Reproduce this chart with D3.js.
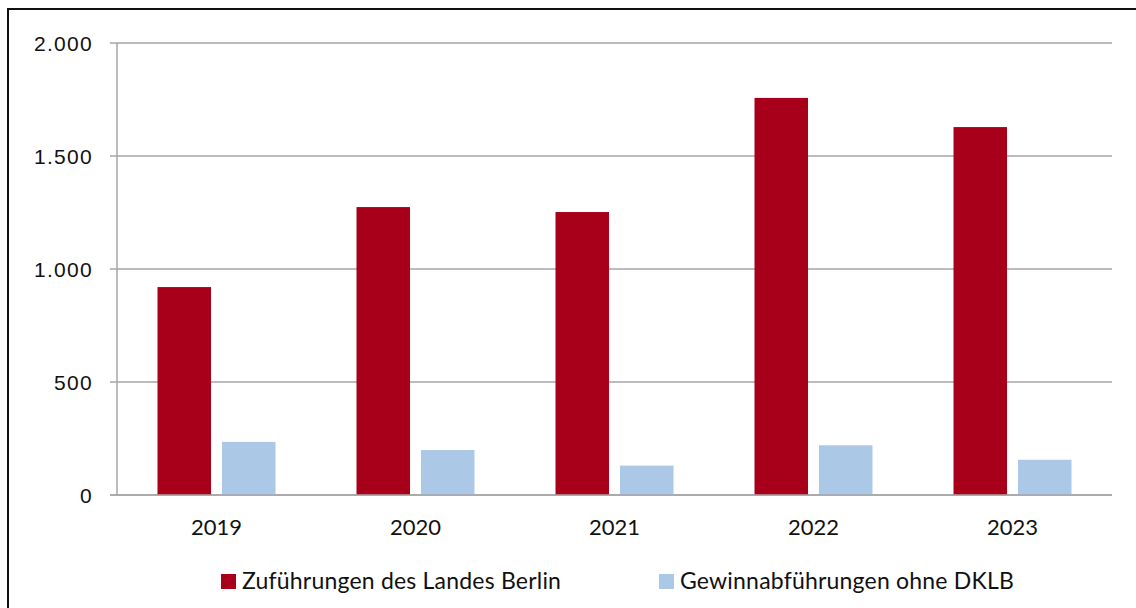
<!DOCTYPE html>
<html>
<head>
<meta charset="utf-8">
<script src="https://cdn.jsdelivr.net/npm/d3@7"></script>
<style>
  body { margin: 0; background: #fff; }
  svg { display: block; }
</style>
</head>
<body>
<div class="panel"></div>
<script>
const years = ["2019", "2020", "2021", "2022", "2023"];
const zufuehrungen = [920, 1274, 1252, 1757, 1628];
const gewinnabfuehrungen = [235, 199, 130, 220, 156];
const seriesNames = ["Zuführungen des Landes Berlin", "Gewinnabführungen ohne DKLB"];
const seriesColors = ["#a8001a", "#abc9e7"];
const yTicks = [0, 500, 1000, 1500, 2000];

const width = 1136;
const height = 608;

const svg = d3.select(".panel")
  .append("svg")
  .attr("width", width)
  .attr("height", height);

// outer frame
svg.append("rect")
  .attr("x", 8).attr("y", 9)
  .attr("width", 1140).attr("height", 620)
  .attr("fill", "none")
  .attr("stroke", "#111")
  .attr("stroke-width", 2);

const plotLeft = 117, plotRight = 1112, plotTop = 43, plotBottom = 495;

const x = d3.scaleBand().domain(years).range([plotLeft, plotRight]);
const inner = d3.scaleBand().domain([0, 1]).range([0, 118]).paddingInner(0.17);
const y = d3.scaleLinear().domain([0, 2000]).range([plotBottom, plotTop]);

// grid lines
svg.append("g")
  .selectAll("line")
  .data(yTicks)
  .join("line")
  .attr("x1", plotLeft - 7).attr("x2", plotRight)
  .attr("y1", d => y(d)).attr("y2", d => y(d))
  .attr("stroke", "#a6a6a6")
  .attr("stroke-width", 1.5);

svg.append("line")
  .attr("x1", plotLeft).attr("x2", plotLeft)
  .attr("y1", plotTop).attr("y2", plotBottom)
  .attr("stroke", "#a6a6a6")
  .attr("stroke-width", 1.5);

const fmt = d3.format(",");
svg.append("g")
  .selectAll("text")
  .data(yTicks)
  .join("text")
  .attr("x", 93)
  .attr("y", d => y(d) + 7.5)
  .attr("text-anchor", "end")
  .attr("font-family", "Liberation Sans, Arial, sans-serif")
  .attr("font-size", 21)
  .attr("letter-spacing", 1.3)
  .attr("fill", "#111")
  .text(d => fmt(d).replace(/,/g, "."));

const series = [zufuehrungen, gewinnabfuehrungen];
series.forEach((vals, s) => {
  svg.append("g")
    .selectAll("rect")
    .data(vals)
    .join("rect")
    .attr("x", (d, i) => x(years[i]) + (x.bandwidth() - 118) / 2 + inner(s))
    .attr("y", d => y(d))
    .attr("width", inner.bandwidth())
    .attr("height", d => plotBottom - y(d))
    .attr("fill", seriesColors[s]);
});

// redraw baseline over bars
svg.append("line")
  .attr("x1", plotLeft - 7).attr("x2", plotRight)
  .attr("y1", plotBottom).attr("y2", plotBottom)
  .attr("stroke", "#a6a6a6")
  .attr("stroke-width", 1.5);

svg.append("g")
  .selectAll("text")
  .data(years)
  .join("text")
  .attr("x", d => x(d) + x.bandwidth() / 2)
  .attr("y", 535)
  .attr("text-anchor", "middle")
  .attr("font-family", "Lato, sans-serif")
  .attr("font-size", 22)
  .attr("fill", "#111")
  .text(d => d);

// legend
const legendX = [221, 659];
seriesNames.forEach((name, s) => {
  svg.append("rect")
    .attr("x", legendX[s]).attr("y", 574)
    .attr("width", 15).attr("height", 15)
    .attr("fill", seriesColors[s]);
  svg.append("text")
    .attr("x", legendX[s] + 21)
    .attr("y", 589)
    .attr("font-family", "Lato, sans-serif")
    .attr("font-size", 23)
    .attr("letter-spacing", 0.2)
    .attr("fill", "#111")
    .text(name);
});
</script>
</body>
</html>
